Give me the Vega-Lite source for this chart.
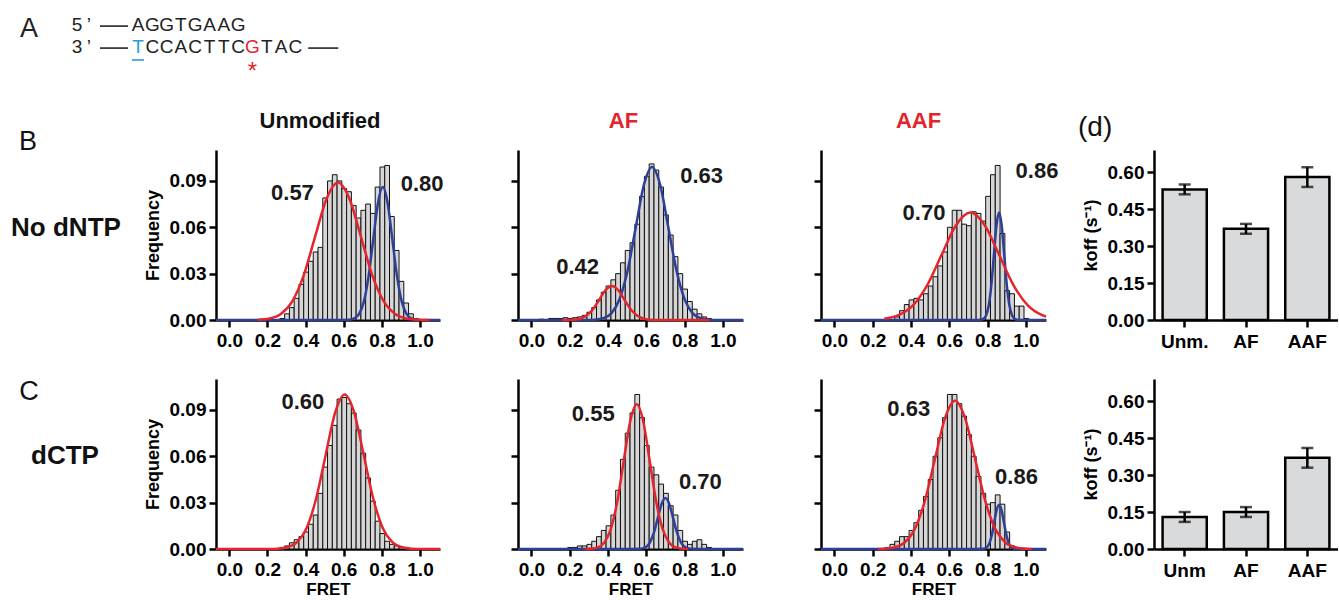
{
"$schema": "https://vega.github.io/schema/vega-lite/v6.json",
"padding": 0,
"background": "white",
"config": {
 "font": "Liberation Sans",
 "view": {"stroke": null},
 "axis": {"grid": false, "domainColor": "#000", "domainWidth": 2.5, "tickColor": "#000", "tickWidth": 2.5, "tickSize": 7, "labelFontSize": 19, "labelFontWeight": "bold", "labelColor": "#000", "titleFontSize": 18, "titleFontWeight": "bold", "titleColor": "#000", "labelPadding": 3, "labelFlush": false, "labelOverlap": false},
 "axisX": {"labelPadding": 4},
 "title": {"color": "#000"}
},
"datasets": {
 "dna": [
  {"s":"lab","line":1.18,"col":-7.62,"ch":"A","k":"n"},
  {"s":"seq","line":1,"col":-4.27,"ch":"5","k":"n"},
  {"s":"seq","line":1,"col":-3.43,"ch":"’","k":"n"},
  {"s":"seq","line":1,"col":0,"ch":"A","k":"n"},
  {"s":"seq","line":1,"col":1,"ch":"G","k":"n"},
  {"s":"seq","line":1,"col":2,"ch":"G","k":"n"},
  {"s":"seq","line":1,"col":3,"ch":"T","k":"n"},
  {"s":"seq","line":1,"col":4,"ch":"G","k":"n"},
  {"s":"seq","line":1,"col":5,"ch":"A","k":"n"},
  {"s":"seq","line":1,"col":6,"ch":"A","k":"n"},
  {"s":"seq","line":1,"col":7,"ch":"G","k":"n"},
  {"s":"seq","line":2,"col":-4.27,"ch":"3","k":"n"},
  {"s":"seq","line":2,"col":-3.43,"ch":"’","k":"n"},
  {"s":"seq","line":2,"col":0,"ch":"T","k":"t"},
  {"s":"seq","line":2,"col":1,"ch":"C","k":"n"},
  {"s":"seq","line":2,"col":2,"ch":"C","k":"n"},
  {"s":"seq","line":2,"col":3,"ch":"A","k":"n"},
  {"s":"seq","line":2,"col":4,"ch":"C","k":"n"},
  {"s":"seq","line":2,"col":5,"ch":"T","k":"n"},
  {"s":"seq","line":2,"col":6,"ch":"T","k":"n"},
  {"s":"seq","line":2,"col":7,"ch":"C","k":"n"},
  {"s":"seq","line":2,"col":8,"ch":"G","k":"g"},
  {"s":"seq","line":2,"col":9,"ch":"T","k":"n"},
  {"s":"seq","line":2,"col":10,"ch":"A","k":"n"},
  {"s":"seq","line":2,"col":11,"ch":"C","k":"n"},
  {"s":"star","line":3.12,"col":8,"ch":"*","k":"g"},
  {"s":"rule","line":1.05,"col":-2.66,"col2":-0.7,"k":"n"},
  {"s":"rule","line":2.05,"col":-2.66,"col2":-0.7,"k":"n"},
  {"s":"rule","line":2.05,"col":11.9,"col2":14.0,"k":"n"},
  {"s":"rule","line":2.59,"col":-0.42,"col2":0.42,"k":"t"}
 ],
 "rowlab": [
  {"r":"B","k":"letter","t":"B","x":0.203,"y":1.047},
  {"r":"B","k":"name","t":"No dNTP","x":0.478,"y":0.541},
  {"r":"C","k":"letter","t":"C","x":0.21,"y":0.924},
  {"r":"C","k":"name","t":"dCTP","x":0.471,"y":0.547}
 ],
 "peaks": [
  {"p":"B1","t":"0.57","x":0.331,"y":0.0819},
  {"p":"B1","t":"0.80","x":1.011,"y":0.0883},
  {"p":"B2","t":"0.63","x":0.889,"y":0.0933},
  {"p":"B2","t":"0.42","x":0.241,"y":0.034},
  {"p":"B3","t":"0.70","x":0.468,"y":0.0693},
  {"p":"B3","t":"0.86","x":1.058,"y":0.0961},
  {"p":"C1","t":"0.60","x":0.386,"y":0.0948},
  {"p":"C2","t":"0.55","x":0.323,"y":0.0875},
  {"p":"C2","t":"0.70","x":0.882,"y":0.0436},
  {"p":"C3","t":"0.63","x":0.388,"y":0.0903},
  {"p":"C3","t":"0.86","x":0.951,"y":0.0469}
 ],
 "koffB": [
  {"cat":"Unm.","v":0.53,"lo":0.51,"hi":0.55},
  {"cat":"AF","v":0.37,"lo":0.35,"hi":0.39},
  {"cat":"AAF","v":0.58,"lo":0.54,"hi":0.62}
 ],
 "koffC": [
  {"cat":"Unm","v":0.13,"lo":0.11,"hi":0.15},
  {"cat":"AF","v":0.15,"lo":0.13,"hi":0.17},
  {"cat":"AAF","v":0.37,"lo":0.33,"hi":0.41}
 ],
 "hist": [
  {"p":"B1","lo":0.2625,"f":0.001},{"p":"B1","lo":0.2875,"f":0.004},{"p":"B1","lo":0.3125,"f":0.008},{"p":"B1","lo":0.3375,"f":0.014},{"p":"B1","lo":0.3625,"f":0.023},{"p":"B1","lo":0.3875,"f":0.031},{"p":"B1","lo":0.4125,"f":0.038},{"p":"B1","lo":0.4375,"f":0.044},{"p":"B1","lo":0.4625,"f":0.047},{"p":"B1","lo":0.4875,"f":0.079},{"p":"B1","lo":0.5125,"f":0.090},{"p":"B1","lo":0.5375,"f":0.094},{"p":"B1","lo":0.5625,"f":0.090},{"p":"B1","lo":0.5875,"f":0.085},{"p":"B1","lo":0.6125,"f":0.083},{"p":"B1","lo":0.6375,"f":0.074},{"p":"B1","lo":0.6625,"f":0.066},{"p":"B1","lo":0.6875,"f":0.071},{"p":"B1","lo":0.7125,"f":0.075},{"p":"B1","lo":0.7375,"f":0.069},{"p":"B1","lo":0.7625,"f":0.086},{"p":"B1","lo":0.7875,"f":0.099},{"p":"B1","lo":0.8125,"f":0.100},{"p":"B1","lo":0.8375,"f":0.067},{"p":"B1","lo":0.8625,"f":0.045},{"p":"B1","lo":0.8875,"f":0.025},{"p":"B1","lo":0.9125,"f":0.011},{"p":"B1","lo":0.9375,"f":0.004},{"p":"B1","lo":0.9625,"f":0.001},
  {"p":"B2","lo":0.0375,"f":0.0005},{"p":"B2","lo":0.0875,"f":0.001},{"p":"B2","lo":0.1125,"f":0.001},{"p":"B2","lo":0.1375,"f":0.001},{"p":"B2","lo":0.1625,"f":0.0015},{"p":"B2","lo":0.1875,"f":0.001},{"p":"B2","lo":0.2125,"f":0.0015},{"p":"B2","lo":0.2375,"f":0.002},{"p":"B2","lo":0.2625,"f":0.003},{"p":"B2","lo":0.2875,"f":0.005},{"p":"B2","lo":0.3125,"f":0.008},{"p":"B2","lo":0.3375,"f":0.013},{"p":"B2","lo":0.3625,"f":0.018},{"p":"B2","lo":0.3875,"f":0.022},{"p":"B2","lo":0.4125,"f":0.026},{"p":"B2","lo":0.4375,"f":0.030},{"p":"B2","lo":0.4625,"f":0.037},{"p":"B2","lo":0.4875,"f":0.045},{"p":"B2","lo":0.5125,"f":0.050},{"p":"B2","lo":0.5375,"f":0.062},{"p":"B2","lo":0.5625,"f":0.080},{"p":"B2","lo":0.5875,"f":0.093},{"p":"B2","lo":0.6125,"f":0.101},{"p":"B2","lo":0.6375,"f":0.097},{"p":"B2","lo":0.6625,"f":0.086},{"p":"B2","lo":0.6875,"f":0.068},{"p":"B2","lo":0.7125,"f":0.055},{"p":"B2","lo":0.7375,"f":0.041},{"p":"B2","lo":0.7625,"f":0.030},{"p":"B2","lo":0.7875,"f":0.020},{"p":"B2","lo":0.8125,"f":0.012},{"p":"B2","lo":0.8375,"f":0.007},{"p":"B2","lo":0.8625,"f":0.004},{"p":"B2","lo":0.8875,"f":0.002},{"p":"B2","lo":0.9125,"f":0.001},
  {"p":"B3","lo":0.3125,"f":0.002},{"p":"B3","lo":0.3375,"f":0.006},{"p":"B3","lo":0.3625,"f":0.010},{"p":"B3","lo":0.3875,"f":0.013},{"p":"B3","lo":0.4125,"f":0.014},{"p":"B3","lo":0.4375,"f":0.013},{"p":"B3","lo":0.4625,"f":0.017},{"p":"B3","lo":0.4875,"f":0.022},{"p":"B3","lo":0.5125,"f":0.028},{"p":"B3","lo":0.5375,"f":0.035},{"p":"B3","lo":0.5625,"f":0.044},{"p":"B3","lo":0.5875,"f":0.060},{"p":"B3","lo":0.6125,"f":0.071},{"p":"B3","lo":0.6375,"f":0.071},{"p":"B3","lo":0.6625,"f":0.062},{"p":"B3","lo":0.6875,"f":0.061},{"p":"B3","lo":0.7125,"f":0.070},{"p":"B3","lo":0.7375,"f":0.069},{"p":"B3","lo":0.7625,"f":0.064},{"p":"B3","lo":0.7875,"f":0.080},{"p":"B3","lo":0.8125,"f":0.094},{"p":"B3","lo":0.8375,"f":0.100},{"p":"B3","lo":0.8625,"f":0.056},{"p":"B3","lo":0.8875,"f":0.019},{"p":"B3","lo":0.9125,"f":0.017},{"p":"B3","lo":0.9375,"f":0.009},{"p":"B3","lo":0.9625,"f":0.009},{"p":"B3","lo":0.9875,"f":0.001},
  {"p":"C1","lo":0.2625,"f":0.001},{"p":"C1","lo":0.2875,"f":0.002},{"p":"C1","lo":0.3125,"f":0.004},{"p":"C1","lo":0.3375,"f":0.006},{"p":"C1","lo":0.3625,"f":0.008},{"p":"C1","lo":0.3875,"f":0.011},{"p":"C1","lo":0.4125,"f":0.016},{"p":"C1","lo":0.4375,"f":0.022},{"p":"C1","lo":0.4625,"f":0.036},{"p":"C1","lo":0.4875,"f":0.053},{"p":"C1","lo":0.5125,"f":0.067},{"p":"C1","lo":0.5375,"f":0.080},{"p":"C1","lo":0.5625,"f":0.097},{"p":"C1","lo":0.5875,"f":0.098},{"p":"C1","lo":0.6125,"f":0.094},{"p":"C1","lo":0.6375,"f":0.088},{"p":"C1","lo":0.6625,"f":0.077},{"p":"C1","lo":0.6875,"f":0.062},{"p":"C1","lo":0.7125,"f":0.046},{"p":"C1","lo":0.7375,"f":0.031},{"p":"C1","lo":0.7625,"f":0.018},{"p":"C1","lo":0.7875,"f":0.010},{"p":"C1","lo":0.8125,"f":0.005},{"p":"C1","lo":0.8375,"f":0.003},{"p":"C1","lo":0.8625,"f":0.002},{"p":"C1","lo":0.8875,"f":0.001},{"p":"C1","lo":0.9125,"f":0.001},
  {"p":"C2","lo":0.1875,"f":0.001},{"p":"C2","lo":0.2125,"f":0.001},{"p":"C2","lo":0.2375,"f":0.002},{"p":"C2","lo":0.2625,"f":0.002},{"p":"C2","lo":0.2875,"f":0.003},{"p":"C2","lo":0.3125,"f":0.005},{"p":"C2","lo":0.3375,"f":0.008},{"p":"C2","lo":0.3625,"f":0.012},{"p":"C2","lo":0.3875,"f":0.015},{"p":"C2","lo":0.4125,"f":0.022},{"p":"C2","lo":0.4375,"f":0.038},{"p":"C2","lo":0.4625,"f":0.058},{"p":"C2","lo":0.4875,"f":0.075},{"p":"C2","lo":0.5125,"f":0.088},{"p":"C2","lo":0.5375,"f":0.100},{"p":"C2","lo":0.5625,"f":0.085},{"p":"C2","lo":0.5875,"f":0.067},{"p":"C2","lo":0.6125,"f":0.053},{"p":"C2","lo":0.6375,"f":0.048},{"p":"C2","lo":0.6625,"f":0.042},{"p":"C2","lo":0.6875,"f":0.036},{"p":"C2","lo":0.7125,"f":0.028},{"p":"C2","lo":0.7375,"f":0.022},{"p":"C2","lo":0.7625,"f":0.012},{"p":"C2","lo":0.7875,"f":0.005},{"p":"C2","lo":0.8125,"f":0.003},{"p":"C2","lo":0.8375,"f":0.005},{"p":"C2","lo":0.8625,"f":0.006},{"p":"C2","lo":0.8875,"f":0.003},{"p":"C2","lo":0.9125,"f":0.001},
  {"p":"C3","lo":0.2625,"f":0.001},{"p":"C3","lo":0.2875,"f":0.003},{"p":"C3","lo":0.3125,"f":0.005},{"p":"C3","lo":0.3375,"f":0.008},{"p":"C3","lo":0.3625,"f":0.008},{"p":"C3","lo":0.3875,"f":0.012},{"p":"C3","lo":0.4125,"f":0.017},{"p":"C3","lo":0.4375,"f":0.025},{"p":"C3","lo":0.4625,"f":0.034},{"p":"C3","lo":0.4875,"f":0.045},{"p":"C3","lo":0.5125,"f":0.060},{"p":"C3","lo":0.5375,"f":0.072},{"p":"C3","lo":0.5625,"f":0.085},{"p":"C3","lo":0.5875,"f":0.100},{"p":"C3","lo":0.6125,"f":0.100},{"p":"C3","lo":0.6375,"f":0.094},{"p":"C3","lo":0.6625,"f":0.086},{"p":"C3","lo":0.6875,"f":0.074},{"p":"C3","lo":0.7125,"f":0.060},{"p":"C3","lo":0.7375,"f":0.047},{"p":"C3","lo":0.7625,"f":0.036},{"p":"C3","lo":0.7875,"f":0.029},{"p":"C3","lo":0.8125,"f":0.030},{"p":"C3","lo":0.8375,"f":0.035},{"p":"C3","lo":0.8625,"f":0.029},{"p":"C3","lo":0.8875,"f":0.011},{"p":"C3","lo":0.9125,"f":0.002},{"p":"C3","lo":0.9375,"f":0.001}
 ],
 "fit": [
  {"p":"B1","c":"r","x":0.15,"y":0.0002},{"p":"B1","c":"r","x":0.21,"y":0.001},{"p":"B1","c":"r","x":0.27,"y":0.0039},{"p":"B1","c":"r","x":0.33,"y":0.012},{"p":"B1","c":"r","x":0.39,"y":0.0289},{"p":"B1","c":"r","x":0.45,"y":0.054},{"p":"B1","c":"r","x":0.51,"y":0.0785},{"p":"B1","c":"r","x":0.57,"y":0.089},{"p":"B1","c":"r","x":0.63,"y":0.0785},{"p":"B1","c":"r","x":0.69,"y":0.054},{"p":"B1","c":"r","x":0.75,"y":0.0289},{"p":"B1","c":"r","x":0.81,"y":0.012},{"p":"B1","c":"r","x":0.87,"y":0.0039},{"p":"B1","c":"r","x":0.93,"y":0.001},{"p":"B1","c":"r","x":0.99,"y":0.0002},{"p":"B1","c":"r","x":1.05,"y":0},
  {"p":"B1","c":"b","x":-0.07,"y":0},{"p":"B1","c":"b","x":0.58,"y":0},{"p":"B1","c":"b","x":0.63,"y":0.0002},{"p":"B1","c":"b","x":0.655,"y":0.001},{"p":"B1","c":"b","x":0.68,"y":0.0038},{"p":"B1","c":"b","x":0.705,"y":0.0116},{"p":"B1","c":"b","x":0.73,"y":0.0279},{"p":"B1","c":"b","x":0.755,"y":0.0522},{"p":"B1","c":"b","x":0.78,"y":0.0759},{"p":"B1","c":"b","x":0.805,"y":0.086},{"p":"B1","c":"b","x":0.83,"y":0.0759},{"p":"B1","c":"b","x":0.855,"y":0.0522},{"p":"B1","c":"b","x":0.88,"y":0.0279},{"p":"B1","c":"b","x":0.905,"y":0.0116},{"p":"B1","c":"b","x":0.93,"y":0.0038},{"p":"B1","c":"b","x":0.955,"y":0.001},{"p":"B1","c":"b","x":0.98,"y":0.0002},{"p":"B1","c":"b","x":1.03,"y":0},{"p":"B1","c":"b","x":1.105,"y":0},
  {"p":"B2","c":"r","x":0.16,"y":0},{"p":"B2","c":"r","x":0.1925,"y":0.00005},{"p":"B2","c":"r","x":0.225,"y":0.0002},{"p":"B2","c":"r","x":0.2575,"y":0.001},{"p":"B2","c":"r","x":0.29,"y":0.003},{"p":"B2","c":"r","x":0.3225,"y":0.0071},{"p":"B2","c":"r","x":0.355,"y":0.0133},{"p":"B2","c":"r","x":0.3875,"y":0.0194},{"p":"B2","c":"r","x":0.42,"y":0.022},{"p":"B2","c":"r","x":0.4525,"y":0.0194},{"p":"B2","c":"r","x":0.485,"y":0.0133},{"p":"B2","c":"r","x":0.5175,"y":0.0071},{"p":"B2","c":"r","x":0.55,"y":0.003},{"p":"B2","c":"r","x":0.5825,"y":0.001},{"p":"B2","c":"r","x":0.615,"y":0.0002},{"p":"B2","c":"r","x":0.6475,"y":0.00005},{"p":"B2","c":"r","x":0.68,"y":0},{"p":"B2","c":"r","x":0.93,"y":0},
  {"p":"B2","c":"b","x":-0.07,"y":0},{"p":"B2","c":"b","x":0.29,"y":0},{"p":"B2","c":"b","x":0.3325,"y":0.0002},{"p":"B2","c":"b","x":0.375,"y":0.0011},{"p":"B2","c":"b","x":0.4175,"y":0.0043},{"p":"B2","c":"b","x":0.46,"y":0.0134},{"p":"B2","c":"b","x":0.5025,"y":0.0321},{"p":"B2","c":"b","x":0.545,"y":0.06},{"p":"B2","c":"b","x":0.5875,"y":0.0874},{"p":"B2","c":"b","x":0.63,"y":0.099},{"p":"B2","c":"b","x":0.6725,"y":0.0874},{"p":"B2","c":"b","x":0.715,"y":0.06},{"p":"B2","c":"b","x":0.7575,"y":0.0321},{"p":"B2","c":"b","x":0.8,"y":0.0134},{"p":"B2","c":"b","x":0.8425,"y":0.0043},{"p":"B2","c":"b","x":0.885,"y":0.0011},{"p":"B2","c":"b","x":0.9275,"y":0.0002},{"p":"B2","c":"b","x":0.97,"y":0},{"p":"B2","c":"b","x":1.105,"y":0},
  {"p":"B3","c":"r","x":0.26,"y":0.0008},{"p":"B3","c":"r","x":0.335,"y":0.0031},{"p":"B3","c":"r","x":0.41,"y":0.0094},{"p":"B3","c":"r","x":0.485,"y":0.0226},{"p":"B3","c":"r","x":0.56,"y":0.0422},{"p":"B3","c":"r","x":0.635,"y":0.0613},{"p":"B3","c":"r","x":0.71,"y":0.0695},{"p":"B3","c":"r","x":0.785,"y":0.0613},{"p":"B3","c":"r","x":0.86,"y":0.0422},{"p":"B3","c":"r","x":0.935,"y":0.0226},{"p":"B3","c":"r","x":1.01,"y":0.0094},{"p":"B3","c":"r","x":1.085,"y":0.0031},{"p":"B3","c":"r","x":1.105,"y":0.0022},
  {"p":"B3","c":"b","x":-0.07,"y":0},{"p":"B3","c":"b","x":0.73,"y":0},{"p":"B3","c":"b","x":0.7655,"y":0.00015},{"p":"B3","c":"b","x":0.779,"y":0.0008},{"p":"B3","c":"b","x":0.7925,"y":0.0031},{"p":"B3","c":"b","x":0.806,"y":0.0094},{"p":"B3","c":"b","x":0.8195,"y":0.0226},{"p":"B3","c":"b","x":0.833,"y":0.0422},{"p":"B3","c":"b","x":0.8465,"y":0.0613},{"p":"B3","c":"b","x":0.86,"y":0.0695},{"p":"B3","c":"b","x":0.8735,"y":0.0613},{"p":"B3","c":"b","x":0.887,"y":0.0422},{"p":"B3","c":"b","x":0.9005,"y":0.0226},{"p":"B3","c":"b","x":0.914,"y":0.0094},{"p":"B3","c":"b","x":0.9275,"y":0.0031},{"p":"B3","c":"b","x":0.941,"y":0.0008},{"p":"B3","c":"b","x":0.9545,"y":0.00015},{"p":"B3","c":"b","x":0.99,"y":0},{"p":"B3","c":"b","x":1.105,"y":0},
  {"p":"C1","c":"r","x":-0.07,"y":0},{"p":"C1","c":"r","x":0.205,"y":0},{"p":"C1","c":"r","x":0.255,"y":0.0002},{"p":"C1","c":"r","x":0.305,"y":0.0011},{"p":"C1","c":"r","x":0.355,"y":0.0044},{"p":"C1","c":"r","x":0.405,"y":0.0135},{"p":"C1","c":"r","x":0.455,"y":0.0325},{"p":"C1","c":"r","x":0.505,"y":0.0607},{"p":"C1","c":"r","x":0.555,"y":0.0883},{"p":"C1","c":"r","x":0.605,"y":0.1},{"p":"C1","c":"r","x":0.655,"y":0.0883},{"p":"C1","c":"r","x":0.705,"y":0.0607},{"p":"C1","c":"r","x":0.755,"y":0.0325},{"p":"C1","c":"r","x":0.805,"y":0.0135},{"p":"C1","c":"r","x":0.855,"y":0.0044},{"p":"C1","c":"r","x":0.905,"y":0.0011},{"p":"C1","c":"r","x":0.955,"y":0.0002},{"p":"C1","c":"r","x":1.005,"y":0},{"p":"C1","c":"r","x":1.105,"y":0},
  {"p":"C2","c":"r","x":0.28,"y":0},{"p":"C2","c":"r","x":0.312,"y":0.0002},{"p":"C2","c":"r","x":0.346,"y":0.001},{"p":"C2","c":"r","x":0.38,"y":0.0041},{"p":"C2","c":"r","x":0.414,"y":0.0127},{"p":"C2","c":"r","x":0.448,"y":0.0304},{"p":"C2","c":"r","x":0.482,"y":0.0568},{"p":"C2","c":"r","x":0.516,"y":0.0827},{"p":"C2","c":"r","x":0.55,"y":0.0937},{"p":"C2","c":"r","x":0.584,"y":0.0827},{"p":"C2","c":"r","x":0.618,"y":0.0568},{"p":"C2","c":"r","x":0.652,"y":0.0304},{"p":"C2","c":"r","x":0.686,"y":0.0127},{"p":"C2","c":"r","x":0.72,"y":0.0041},{"p":"C2","c":"r","x":0.754,"y":0.001},{"p":"C2","c":"r","x":0.788,"y":0.0002},{"p":"C2","c":"r","x":0.82,"y":0},
  {"p":"C2","c":"b","x":-0.07,"y":0},{"p":"C2","c":"b","x":0.52,"y":0},{"p":"C2","c":"b","x":0.56,"y":0.0001},{"p":"C2","c":"b","x":0.58,"y":0.0004},{"p":"C2","c":"b","x":0.6,"y":0.0014},{"p":"C2","c":"b","x":0.62,"y":0.0045},{"p":"C2","c":"b","x":0.64,"y":0.0107},{"p":"C2","c":"b","x":0.66,"y":0.02},{"p":"C2","c":"b","x":0.68,"y":0.0291},{"p":"C2","c":"b","x":0.7,"y":0.033},{"p":"C2","c":"b","x":0.72,"y":0.0291},{"p":"C2","c":"b","x":0.74,"y":0.02},{"p":"C2","c":"b","x":0.76,"y":0.0107},{"p":"C2","c":"b","x":0.78,"y":0.0045},{"p":"C2","c":"b","x":0.8,"y":0.0014},{"p":"C2","c":"b","x":0.82,"y":0.0004},{"p":"C2","c":"b","x":0.84,"y":0.0001},{"p":"C2","c":"b","x":0.88,"y":0},{"p":"C2","c":"b","x":1.105,"y":0},
  {"p":"C3","c":"r","x":0.23,"y":0},{"p":"C3","c":"r","x":0.2625,"y":0.0002},{"p":"C3","c":"r","x":0.315,"y":0.0011},{"p":"C3","c":"r","x":0.3675,"y":0.0042},{"p":"C3","c":"r","x":0.42,"y":0.013},{"p":"C3","c":"r","x":0.4725,"y":0.0312},{"p":"C3","c":"r","x":0.525,"y":0.0582},{"p":"C3","c":"r","x":0.5775,"y":0.0847},{"p":"C3","c":"r","x":0.63,"y":0.096},{"p":"C3","c":"r","x":0.6825,"y":0.0847},{"p":"C3","c":"r","x":0.735,"y":0.0582},{"p":"C3","c":"r","x":0.7875,"y":0.0312},{"p":"C3","c":"r","x":0.84,"y":0.013},{"p":"C3","c":"r","x":0.8925,"y":0.0042},{"p":"C3","c":"r","x":0.945,"y":0.0011},{"p":"C3","c":"r","x":0.9975,"y":0.0002},{"p":"C3","c":"r","x":1.03,"y":0},
  {"p":"C3","c":"b","x":-0.07,"y":0},{"p":"C3","c":"b","x":0.74,"y":0},{"p":"C3","c":"b","x":0.7725,"y":0.0001},{"p":"C3","c":"b","x":0.785,"y":0.0003},{"p":"C3","c":"b","x":0.7975,"y":0.0013},{"p":"C3","c":"b","x":0.81,"y":0.0039},{"p":"C3","c":"b","x":0.8225,"y":0.0093},{"p":"C3","c":"b","x":0.835,"y":0.0174},{"p":"C3","c":"b","x":0.8475,"y":0.0253},{"p":"C3","c":"b","x":0.86,"y":0.0287},{"p":"C3","c":"b","x":0.8725,"y":0.0253},{"p":"C3","c":"b","x":0.885,"y":0.0174},{"p":"C3","c":"b","x":0.8975,"y":0.0093},{"p":"C3","c":"b","x":0.91,"y":0.0039},{"p":"C3","c":"b","x":0.9225,"y":0.0013},{"p":"C3","c":"b","x":0.935,"y":0.0003},{"p":"C3","c":"b","x":0.9475,"y":0.0001},{"p":"C3","c":"b","x":0.98,"y":0},{"p":"C3","c":"b","x":1.105,"y":0}
 ]
},
"vconcat": [
 {
  "width": 400, "height": 100,
  "data": {"name": "dna"},
  "encoding": {
   "x": {"field": "col", "type": "quantitative", "scale": {"domain": [-9.65, 18.32], "nice": false, "zero": false}, "axis": null},
   "y": {"field": "line", "type": "quantitative", "scale": {"domain": [-0.136, 4.41], "nice": false, "zero": false, "reverse": true}, "axis": null},
   "color": {"field": "k", "type": "nominal", "scale": {"domain": ["n", "t", "g"], "range": ["#222222", "#2a9bd8", "#e3242b"]}, "legend": null}
  },
  "layer": [
   {"transform": [{"filter": "datum.s === 'seq'"}], "mark": {"type": "text", "fontSize": 19, "baseline": "middle"}, "encoding": {"text": {"field": "ch"}}},
   {"transform": [{"filter": "datum.s === 'lab'"}], "mark": {"type": "text", "fontSize": 27, "baseline": "middle"}, "encoding": {"text": {"field": "ch"}}},
   {"transform": [{"filter": "datum.s === 'star'"}], "mark": {"type": "text", "fontSize": 24, "baseline": "middle"}, "encoding": {"text": {"field": "ch"}}},
   {"transform": [{"filter": "datum.s === 'rule'"}], "mark": {"type": "rule", "strokeWidth": 1.6}, "encoding": {"x2": {"field": "col2"}}}
  ]
 },
 {
  "columns": 5,
  "spacing": {"row": 59, "column": 78},
  "bounds": "flush",
  "align": "each",
  "concat": [
   {
    "width": 138, "height": 170,
    "data": {"name": "rowlab"},
    "transform": [{"filter": "datum.r === 'B'"}],
    "encoding": {
     "x": {"field": "x", "type": "quantitative", "scale": {"domain": [0, 1], "nice": false}, "axis": null},
     "y": {"field": "y", "type": "quantitative", "scale": {"domain": [0, 1], "nice": false}, "axis": null},
     "text": {"field": "t"}
    },
    "layer": [
     {"transform": [{"filter": "datum.k === 'letter'"}], "mark": {"type": "text", "fontSize": 27, "color": "#111"}},
     {"transform": [{"filter": "datum.k === 'name'"}], "mark": {"type": "text", "fontSize": 26, "fontWeight": "bold", "color": "#111"}}
    ]
   },
   {
    "width": 224, "height": 170,
    "title": {"text": "Unmodified", "fontSize": 22, "fontWeight": "bold", "color": "#111", "offset": 0, "baseline": "alphabetic", "anchor": "middle", "frame": "group", "dx": -8},
    "layer": [
     {"data": {"name": "hist"}, "transform": [{"filter": "datum.p === 'B1'"}],
      "mark": {"type": "bar", "fill": "#d6d6d6", "stroke": "#111", "strokeWidth": 1, "binSpacing": 0},
      "encoding": {
       "x": {"field": "lo", "type": "quantitative", "bin": {"binned": true, "step": 0.025}, "scale": {"domain": [-0.07, 1.105], "nice": false, "zero": false}, "axis": {"values": [0, 0.2, 0.4, 0.6, 0.8, 1], "format": ".1f", "title": null}},
       "y": {"field": "f", "type": "quantitative", "scale": {"domain": [0, 0.11], "nice": false}, "axis": {"values": [0, 0.03, 0.06, 0.09], "format": ".2f", "title": "Frequency", "titlePadding": 7}}
      }},
     {"data": {"name": "fit"}, "transform": [{"filter": "datum.p === 'B1' && datum.c === 'b'"}], "mark": {"type": "line", "color": "#2e3f99", "strokeWidth": 2.5, "interpolate": "monotone"}, "encoding": {"x": {"field": "x", "type": "quantitative"}, "y": {"field": "y", "type": "quantitative"}}},
     {"data": {"name": "fit"}, "transform": [{"filter": "datum.p === 'B1' && datum.c === 'r'"}], "mark": {"type": "line", "color": "#e4252b", "strokeWidth": 2.5, "interpolate": "monotone"}, "encoding": {"x": {"field": "x", "type": "quantitative"}, "y": {"field": "y", "type": "quantitative"}}},
     {"data": {"name": "peaks"}, "transform": [{"filter": "datum.p === 'B1'"}], "mark": {"type": "text", "fontSize": 22, "fontWeight": "bold", "color": "#1a1a1a"}, "encoding": {"x": {"field": "x", "type": "quantitative"}, "y": {"field": "y", "type": "quantitative"}, "text": {"field": "t"}}}
    ]
   },
   {
    "width": 225, "height": 170,
    "title": {"text": "AF", "fontSize": 22, "fontWeight": "bold", "color": "#e3242b", "offset": 0, "baseline": "alphabetic", "anchor": "middle", "frame": "group", "dx": -7},
    "layer": [
     {"data": {"name": "hist"}, "transform": [{"filter": "datum.p === 'B2'"}],
      "mark": {"type": "bar", "fill": "#d6d6d6", "stroke": "#111", "strokeWidth": 1, "binSpacing": 0},
      "encoding": {
       "x": {"field": "lo", "type": "quantitative", "bin": {"binned": true, "step": 0.025}, "scale": {"domain": [-0.07, 1.105], "nice": false, "zero": false}, "axis": {"values": [0, 0.2, 0.4, 0.6, 0.8, 1], "format": ".1f", "title": null}},
       "y": {"field": "f", "type": "quantitative", "scale": {"domain": [0, 0.11], "nice": false}, "axis": {"values": [0, 0.03, 0.06, 0.09], "labels": false, "title": null}}
      }},
     {"data": {"name": "fit"}, "transform": [{"filter": "datum.p === 'B2' && datum.c === 'b'"}], "mark": {"type": "line", "color": "#2e3f99", "strokeWidth": 2.5, "interpolate": "monotone"}, "encoding": {"x": {"field": "x", "type": "quantitative"}, "y": {"field": "y", "type": "quantitative"}}},
     {"data": {"name": "fit"}, "transform": [{"filter": "datum.p === 'B2' && datum.c === 'r'"}], "mark": {"type": "line", "color": "#e4252b", "strokeWidth": 2.5, "interpolate": "monotone"}, "encoding": {"x": {"field": "x", "type": "quantitative"}, "y": {"field": "y", "type": "quantitative"}}},
     {"data": {"name": "peaks"}, "transform": [{"filter": "datum.p === 'B2'"}], "mark": {"type": "text", "fontSize": 22, "fontWeight": "bold", "color": "#1a1a1a"}, "encoding": {"x": {"field": "x", "type": "quantitative"}, "y": {"field": "y", "type": "quantitative"}, "text": {"field": "t"}}}
    ]
   },
   {
    "width": 225, "height": 170,
    "title": {"text": "AAF", "fontSize": 22, "fontWeight": "bold", "color": "#e3242b", "offset": 0, "baseline": "alphabetic", "anchor": "middle", "frame": "group", "dx": -15},
    "layer": [
     {"data": {"name": "hist"}, "transform": [{"filter": "datum.p === 'B3'"}],
      "mark": {"type": "bar", "fill": "#d6d6d6", "stroke": "#111", "strokeWidth": 1, "binSpacing": 0},
      "encoding": {
       "x": {"field": "lo", "type": "quantitative", "bin": {"binned": true, "step": 0.025}, "scale": {"domain": [-0.07, 1.105], "nice": false, "zero": false}, "axis": {"values": [0, 0.2, 0.4, 0.6, 0.8, 1], "format": ".1f", "title": null}},
       "y": {"field": "f", "type": "quantitative", "scale": {"domain": [0, 0.11], "nice": false}, "axis": {"values": [0, 0.03, 0.06, 0.09], "labels": false, "title": null}}
      }},
     {"data": {"name": "fit"}, "transform": [{"filter": "datum.p === 'B3' && datum.c === 'b'"}], "mark": {"type": "line", "color": "#2e3f99", "strokeWidth": 2.5, "interpolate": "monotone"}, "encoding": {"x": {"field": "x", "type": "quantitative"}, "y": {"field": "y", "type": "quantitative"}}},
     {"data": {"name": "fit"}, "transform": [{"filter": "datum.p === 'B3' && datum.c === 'r'"}], "mark": {"type": "line", "color": "#e4252b", "strokeWidth": 2.5, "interpolate": "monotone"}, "encoding": {"x": {"field": "x", "type": "quantitative"}, "y": {"field": "y", "type": "quantitative"}}},
     {"data": {"name": "peaks"}, "transform": [{"filter": "datum.p === 'B3'"}], "mark": {"type": "text", "fontSize": 22, "fontWeight": "bold", "color": "#1a1a1a"}, "encoding": {"x": {"field": "x", "type": "quantitative"}, "y": {"field": "y", "type": "quantitative"}, "text": {"field": "t"}}}
    ]
   },
   {
    "width": 214, "height": 170,
    "data": {"name": "koffB"},
    "title": {"text": "(d)", "fontSize": 28, "fontWeight": "normal", "color": "#111", "anchor": "start", "frame": "group", "dx": -46, "dy": 14, "offset": 0, "baseline": "alphabetic"},
    "encoding": {
     "x": {"field": "cat", "type": "nominal", "sort": null, "scale": {"range": [30, 214], "paddingInner": 0.28, "paddingOuter": 0.14}, "axis": {"title": null, "labelAngle": 0, "labelPadding": 5}}
    },
    "layer": [
     {"mark": {"type": "bar", "fill": "#d9dadc", "stroke": "#000", "strokeWidth": 2.5},
      "encoding": {"y": {"field": "v", "type": "quantitative", "scale": {"domain": [0, 0.69], "nice": false}, "axis": {"values": [0, 0.15, 0.3, 0.45, 0.6], "format": ".2f", "offset": -30, "title": "koff (s⁻¹)", "titlePadding": 7}}}},
     {"mark": {"type": "rule", "strokeWidth": 2.5, "color": "#000"}, "encoding": {"y": {"field": "lo", "type": "quantitative"}, "y2": {"field": "hi"}}},
     {"mark": {"type": "tick", "orient": "horizontal", "size": 12, "thickness": 2.5, "color": "#000"}, "encoding": {"y": {"field": "lo", "type": "quantitative"}}},
     {"mark": {"type": "tick", "orient": "horizontal", "size": 12, "thickness": 2.5, "color": "#000"}, "encoding": {"y": {"field": "hi", "type": "quantitative"}}}
    ]
   },
   {
    "width": 138, "height": 170,
    "data": {"name": "rowlab"},
    "transform": [{"filter": "datum.r === 'C'"}],
    "encoding": {
     "x": {"field": "x", "type": "quantitative", "scale": {"domain": [0, 1], "nice": false}, "axis": null},
     "y": {"field": "y", "type": "quantitative", "scale": {"domain": [0, 1], "nice": false}, "axis": null},
     "text": {"field": "t"}
    },
    "layer": [
     {"transform": [{"filter": "datum.k === 'letter'"}], "mark": {"type": "text", "fontSize": 27, "color": "#111"}},
     {"transform": [{"filter": "datum.k === 'name'"}], "mark": {"type": "text", "fontSize": 26, "fontWeight": "bold", "color": "#111"}}
    ]
   },
   {
    "width": 224, "height": 170,
    "layer": [
     {"data": {"name": "hist"}, "transform": [{"filter": "datum.p === 'C1'"}],
      "mark": {"type": "bar", "fill": "#d6d6d6", "stroke": "#111", "strokeWidth": 1, "binSpacing": 0},
      "encoding": {
       "x": {"field": "lo", "type": "quantitative", "bin": {"binned": true, "step": 0.025}, "scale": {"domain": [-0.07, 1.105], "nice": false, "zero": false}, "axis": {"values": [0, 0.2, 0.4, 0.6, 0.8, 1], "format": ".1f", "title": "FRET", "titleFontSize": 17, "titlePadding": 2}},
       "y": {"field": "f", "type": "quantitative", "scale": {"domain": [0, 0.11], "nice": false}, "axis": {"values": [0, 0.03, 0.06, 0.09], "format": ".2f", "title": "Frequency", "titlePadding": 7}}
      }},
     {"data": {"name": "fit"}, "transform": [{"filter": "datum.p === 'C1' && datum.c === 'r'"}], "mark": {"type": "line", "color": "#e4252b", "strokeWidth": 2.5, "interpolate": "monotone"}, "encoding": {"x": {"field": "x", "type": "quantitative"}, "y": {"field": "y", "type": "quantitative"}}},
     {"data": {"name": "peaks"}, "transform": [{"filter": "datum.p === 'C1'"}], "mark": {"type": "text", "fontSize": 22, "fontWeight": "bold", "color": "#1a1a1a"}, "encoding": {"x": {"field": "x", "type": "quantitative"}, "y": {"field": "y", "type": "quantitative"}, "text": {"field": "t"}}}
    ]
   },
   {
    "width": 225, "height": 170,
    "layer": [
     {"data": {"name": "hist"}, "transform": [{"filter": "datum.p === 'C2'"}],
      "mark": {"type": "bar", "fill": "#d6d6d6", "stroke": "#111", "strokeWidth": 1, "binSpacing": 0},
      "encoding": {
       "x": {"field": "lo", "type": "quantitative", "bin": {"binned": true, "step": 0.025}, "scale": {"domain": [-0.07, 1.105], "nice": false, "zero": false}, "axis": {"values": [0, 0.2, 0.4, 0.6, 0.8, 1], "format": ".1f", "title": "FRET", "titleFontSize": 17, "titlePadding": 2}},
       "y": {"field": "f", "type": "quantitative", "scale": {"domain": [0, 0.11], "nice": false}, "axis": {"values": [0, 0.03, 0.06, 0.09], "labels": false, "title": null}}
      }},
     {"data": {"name": "fit"}, "transform": [{"filter": "datum.p === 'C2' && datum.c === 'b'"}], "mark": {"type": "line", "color": "#2e3f99", "strokeWidth": 2.5, "interpolate": "monotone"}, "encoding": {"x": {"field": "x", "type": "quantitative"}, "y": {"field": "y", "type": "quantitative"}}},
     {"data": {"name": "fit"}, "transform": [{"filter": "datum.p === 'C2' && datum.c === 'r'"}], "mark": {"type": "line", "color": "#e4252b", "strokeWidth": 2.5, "interpolate": "monotone"}, "encoding": {"x": {"field": "x", "type": "quantitative"}, "y": {"field": "y", "type": "quantitative"}}},
     {"data": {"name": "peaks"}, "transform": [{"filter": "datum.p === 'C2'"}], "mark": {"type": "text", "fontSize": 22, "fontWeight": "bold", "color": "#1a1a1a"}, "encoding": {"x": {"field": "x", "type": "quantitative"}, "y": {"field": "y", "type": "quantitative"}, "text": {"field": "t"}}}
    ]
   },
   {
    "width": 225, "height": 170,
    "layer": [
     {"data": {"name": "hist"}, "transform": [{"filter": "datum.p === 'C3'"}],
      "mark": {"type": "bar", "fill": "#d6d6d6", "stroke": "#111", "strokeWidth": 1, "binSpacing": 0},
      "encoding": {
       "x": {"field": "lo", "type": "quantitative", "bin": {"binned": true, "step": 0.025}, "scale": {"domain": [-0.07, 1.105], "nice": false, "zero": false}, "axis": {"values": [0, 0.2, 0.4, 0.6, 0.8, 1], "format": ".1f", "title": "FRET", "titleFontSize": 17, "titlePadding": 2}},
       "y": {"field": "f", "type": "quantitative", "scale": {"domain": [0, 0.11], "nice": false}, "axis": {"values": [0, 0.03, 0.06, 0.09], "labels": false, "title": null}}
      }},
     {"data": {"name": "fit"}, "transform": [{"filter": "datum.p === 'C3' && datum.c === 'b'"}], "mark": {"type": "line", "color": "#2e3f99", "strokeWidth": 2.5, "interpolate": "monotone"}, "encoding": {"x": {"field": "x", "type": "quantitative"}, "y": {"field": "y", "type": "quantitative"}}},
     {"data": {"name": "fit"}, "transform": [{"filter": "datum.p === 'C3' && datum.c === 'r'"}], "mark": {"type": "line", "color": "#e4252b", "strokeWidth": 2.5, "interpolate": "monotone"}, "encoding": {"x": {"field": "x", "type": "quantitative"}, "y": {"field": "y", "type": "quantitative"}}},
     {"data": {"name": "peaks"}, "transform": [{"filter": "datum.p === 'C3'"}], "mark": {"type": "text", "fontSize": 22, "fontWeight": "bold", "color": "#1a1a1a"}, "encoding": {"x": {"field": "x", "type": "quantitative"}, "y": {"field": "y", "type": "quantitative"}, "text": {"field": "t"}}}
    ]
   },
   {
    "width": 214, "height": 170,
    "data": {"name": "koffC"},
    "encoding": {
     "x": {"field": "cat", "type": "nominal", "sort": null, "scale": {"range": [30, 214], "paddingInner": 0.28, "paddingOuter": 0.14}, "axis": {"title": null, "labelAngle": 0, "labelPadding": 5}}
    },
    "layer": [
     {"mark": {"type": "bar", "fill": "#d9dadc", "stroke": "#000", "strokeWidth": 2.5},
      "encoding": {"y": {"field": "v", "type": "quantitative", "scale": {"domain": [0, 0.69], "nice": false}, "axis": {"values": [0, 0.15, 0.3, 0.45, 0.6], "format": ".2f", "offset": -30, "title": "koff (s⁻¹)", "titlePadding": 7}}}},
     {"mark": {"type": "rule", "strokeWidth": 2.5, "color": "#000"}, "encoding": {"y": {"field": "lo", "type": "quantitative"}, "y2": {"field": "hi"}}},
     {"mark": {"type": "tick", "orient": "horizontal", "size": 12, "thickness": 2.5, "color": "#000"}, "encoding": {"y": {"field": "lo", "type": "quantitative"}}},
     {"mark": {"type": "tick", "orient": "horizontal", "size": 12, "thickness": 2.5, "color": "#000"}, "encoding": {"y": {"field": "hi", "type": "quantitative"}}}
    ]
   }
  ]
 }
],
"spacing": 50,
"bounds": "flush"
}
